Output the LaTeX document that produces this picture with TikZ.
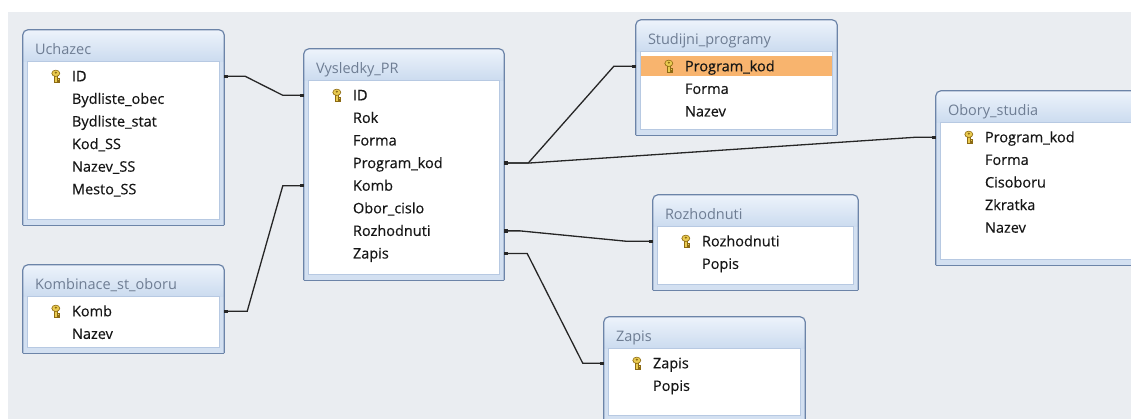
\documentclass[tikz,border=0pt]{standalone}
\usepackage{fontspec}
\setmainfont{Open Sans}
\newfontfamily\rowfont[FakeBold=0.35]{Open Sans}
\usetikzlibrary{calc,fit,arrows.meta}
\definecolor{bggray}{HTML}{EAEDF1}
\definecolor{framefill}{HTML}{D3E0F1}
\definecolor{ttop}{HTML}{EDF3FB}
\definecolor{tbot}{HTML}{CBDBEF}
\definecolor{bodyline}{HTML}{B7C9E2}
\definecolor{tblborder}{HTML}{6C84A8}
\definecolor{titlecol}{HTML}{6E7D93}
\definecolor{rowcol}{HTML}{161616}
\definecolor{conncol}{HTML}{262626}
\definecolor{hlcol}{HTML}{F8B46E}
\definecolor{keygold}{HTML}{EACB50}
\definecolor{keyedge}{HTML}{8C6A14}
\tikzset{
  ttext/.style={font=\fontsize{14.5}{17}\selectfont, text=titlecol, inner sep=0pt, text height=12pt, text depth=2pt},
  rtext/.style={font=\rowfont\fontsize{14.5}{17}\selectfont, text=rowcol, inner sep=0pt, text height=12pt, text depth=2pt},
  tblline/.style={draw=tblborder, line width=1.2pt},
  conn/.style={draw=conncol, line width=1.3pt, arrows={Square[length=3.5pt,width=3.5pt]-Square[length=3.5pt,width=3.5pt]}},
  keyicon/.pic={
    \filldraw[fill=keygold, draw=keyedge, line width=0.6pt] (-1.3,-1) rectangle (1.3,6.2);
    \filldraw[fill=keygold, draw=keyedge, line width=0.6pt] (1.3,2.4) rectangle (3.3,3.6);
    \filldraw[fill=keygold, draw=keyedge, line width=0.6pt] (1.3,4.6) rectangle (3.3,5.8);
    \filldraw[fill=keygold, draw=keyedge, line width=0.6pt] (0,-3) ellipse [x radius=4, y radius=3.2];
    \fill[keyedge] (0,-3.6) ellipse [x radius=1.3, y radius=1];
  }
}
\newcommand\tblframe[6]{%
  \node[fit={(#2,#3) (#4,#5)}, inner sep=0pt] (#1) {};
  \fill[framefill, rounded corners=5pt] (#1.south west) -- (#1.north west) -- (#1.north east) -- (#1.south east);
  \shade[top color=ttop, bottom color=tbot, rounded corners=5pt] ($(#1.north west)+(0,32)$) -- (#1.north west) -- (#1.north east) -- ($(#1.north east)+(0,32)$);
  \filldraw[fill=white, draw=bodyline, line width=0.8pt] ($(#1.north west)+(5,32)$) rectangle ($(#1.south east)+(-5,-6)$);
  \draw[tblline, rounded corners=5pt] (#1.south west) -- (#1.north west) -- (#1.north east) -- (#1.south east);
  \draw[tblline] (#1.south west) -- (#1.south east);
  \node[ttext, anchor=west] (#1-title) at ($(#1.north west)+(12,19.5)$) {#6};
}
\newcommand\tblrows[2]{%
  \foreach \r [count=\i] in {#2}{
    \node[rtext, anchor=west] (#1\i) at ($(#1.north west)+(49,{46.5+22.6*(\i-1)})$) {\r};
  }
  \pic at ($(#1.north west)+(33,46.5)$) {keyicon};
}
\begin{document}
\begin{tikzpicture}[x=1pt, y=-1pt]
\useasboundingbox (0,0) rectangle (1131,419);
\clip (0,0) rectangle (1131,419);
\fill[white] (0,0) rectangle (1131,419);
\fill[bggray] (8,12) rectangle (1131,419);

% tables
\tblframe{uch}{23}{30}{224}{225}{Uchazec}
\tblrows{uch}{ID,Bydliste\_obec,Bydliste\_stat,Kod\_SS,Nazev\_SS,Mesto\_SS}

\tblframe{kom}{23}{265}{224}{353}{Kombinace\_st\_oboru}
\tblrows{kom}{Komb,Nazev}

\tblframe{vys}{304}{49}{504}{280}{Vysledky\_PR}
\tblrows{vys}{ID,Rok,Forma,Program\_kod,Komb,Obor\_cislo,Rozhodnuti,Zapis}

\tblframe{stu}{636}{20}{837}{135}{Studijni\_programy}
\fill[hlcol] ($(stu.north west)+(5,36)$) rectangle ($(stu.north east)+(-5,56.5)$);
\tblrows{stu}{Program\_kod,Forma,Nazev}

\tblframe{obo}{936}{91}{1137}{265}{Obory\_studia}
\tblrows{obo}{Program\_kod,Forma,Cisoboru,Zkratka,Nazev}

\tblframe{roz}{653}{195}{858}{290}{Rozhodnuti}
\tblrows{roz}{Rozhodnuti,Popis}

\tblframe{zap}{604}{317}{805}{421}{Zapis}
\tblrows{zap}{Zapis,Popis}

% connectors
\draw[conn] (uch.east |- uch1.west) -- ++(21,0) -- ($(vys.west |- vys1.west)+(-21,0)$) -- (vys.west |- vys1.west);
\draw[conn] (kom.east |- kom1.west) -- ++(23,0) -- ($(vys.west |- vys5.west)+(-21,0)$) -- (vys.west |- vys5.west);
\draw[conn] (vys.east |- vys4.west) -- ++(24,0) -- ($(stu.west |- stu1.west)+(-22,0)$) -- (stu.west |- stu1.west);
\draw[conn] (vys.east |- vys4.west) -- ++(24,0) -- ($(obo.west |- obo1.west)+(-21,0)$) -- (obo.west |- obo1.west);
\draw[conn] (vys.east |- vys7.west) -- ++(16,0) -- ($(roz.west |- roz1.west)+(-26,0)$) -- (roz.west |- roz1.west);
\draw[conn] (vys.east |- vys8.west) -- ++(23,0) -- ($(zap.west |- zap1.west)+(-21,0)$) -- (zap.west |- zap1.west);
\end{tikzpicture}
\end{document}
